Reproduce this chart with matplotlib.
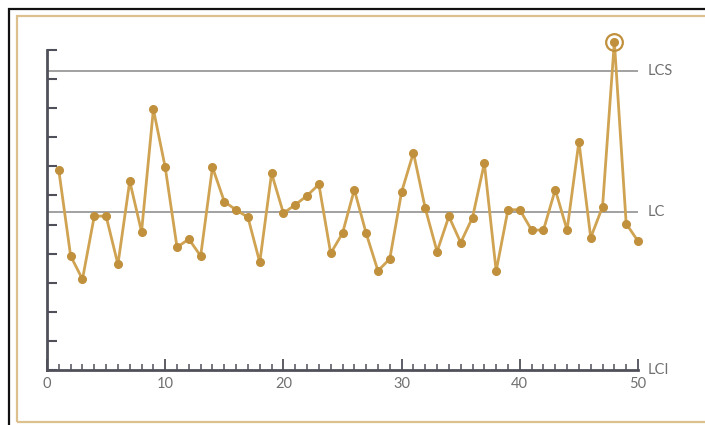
import matplotlib
matplotlib.use("Agg")
import matplotlib.pyplot as plt
from matplotlib.patches import Rectangle

samples = list(range(1, 51))
values = [6.86, 3.92, 3.12, 5.29, 5.29, 3.63, 6.49, 4.75, 8.96, 6.97,
          4.22, 4.50, 3.92, 6.97, 5.79, 5.50, 5.25, 3.70, 6.76, 5.39,
          5.68, 5.99, 6.38, 4.01, 4.70, 6.20, 4.70, 3.41, 3.82, 6.12,
          7.47, 5.56, 4.07, 5.28, 4.38, 5.24, 7.11, 3.40, 5.51, 5.51,
          4.81, 4.81, 6.20, 4.81, 7.85, 4.55, 5.61, 11.29, 5.03, 4.43]

# control limits
limit_names = ["LCS", "LC", "LCI"]
limit_values = [10.28, 5.44, 0.0]
out_of_control = [48]

x_ticks = [0, 10, 20, 30, 40, 50]

gold = "#c0903c"
line_gold = "#cfa352"
axis_grey = "#50505a"
text_grey = "#707070"

plt.rcParams["font.family"] = ["Lato", "DejaVu Sans"]

fig = plt.figure(figsize=(7.05, 4.25), dpi=100)
W, H = 705, 425

# frame borders
fig.patches.append(Rectangle((9 / W, -0.1), 1.2, (H - 9) / H + 0.1, transform=fig.transFigure,
                             fill=False, edgecolor="#111111", linewidth=1.6))
fig.patches.append(Rectangle((17 / W, 3 / H), 1.2, (H - 19) / H, transform=fig.transFigure,
                             fill=False, edgecolor="#dcc08e", linewidth=1.6))

ax = fig.add_axes([47 / W, 55 / H, 591 / W, 320 / H])

# limit lines
for name, val in zip(limit_names[:2], limit_values[:2]):
    ax.hlines(val, 0, 50, color="#9a9a9a", linewidth=1.3, zorder=1)
for name, val in zip(limit_names, limit_values):
    ax.annotate(name, xy=(50, val), xytext=(7, 0), textcoords="offset points",
                va="center", ha="left", fontsize=10.5, color=text_grey,
                annotation_clip=False)

ax.plot(samples, values, color=line_gold, linewidth=2, zorder=2, clip_on=False)
ax.plot(samples, values, "o", color=gold, markersize=5.5, zorder=3, clip_on=False)

for s in out_of_control:
    ax.plot([s], [values[s - 1]], "o", markersize=12, markerfacecolor="none",
            markeredgecolor=gold, markeredgewidth=1.6, zorder=4, clip_on=False)

ax.set_xlim(0, 50)
ax.set_ylim(0, 11)
ax.set_xticks(x_ticks)
ax.set_xticks(range(0, 51), minor=True)
ax.set_yticks(range(0, 12))
ax.set_yticklabels([])

for side in ["top", "right"]:
    ax.spines[side].set_visible(False)
for side in ["left", "bottom"]:
    ax.spines[side].set_color(axis_grey)
    ax.spines[side].set_linewidth(2)

ax.tick_params(axis="y", direction="in", length=7, width=1.5, color=axis_grey)
ax.tick_params(axis="x", which="major", direction="in", length=8, width=1.3,
               color=axis_grey, labelcolor=text_grey, labelsize=10.5, pad=5)
ax.tick_params(axis="x", which="minor", direction="in", length=4.5, width=1.1, color=axis_grey)

fig.savefig("out.png", dpi=100)
